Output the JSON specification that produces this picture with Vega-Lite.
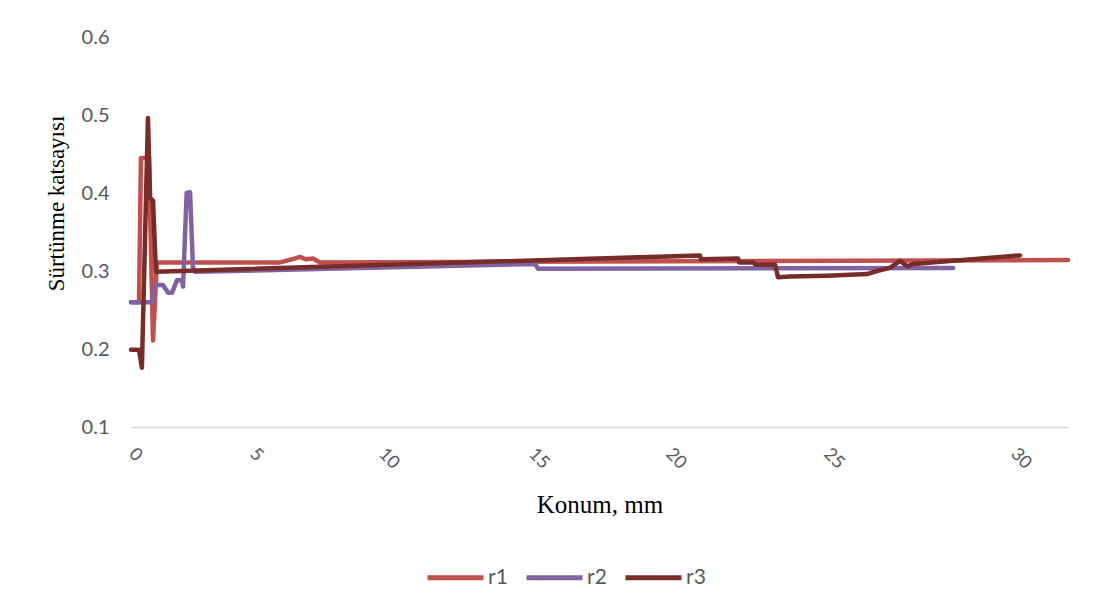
{
  "$schema": "https://vega.github.io/schema/vega-lite/v6.json",
  "autosize": "none",
  "width": 937,
  "height": 390,
  "padding": {"left": 131, "top": 37, "right": 43, "bottom": 181},
  "background": "white",
  "config": {
    "view": {"stroke": null},
    "font": "Lato"
  },
  "data": {
    "values": [
      {"s": "r1", "x": 0.0, "y": 0.26},
      {"s": "r1", "x": 0.33, "y": 0.26},
      {"s": "r1", "x": 0.41, "y": 0.445},
      {"s": "r1", "x": 0.74, "y": 0.445},
      {"s": "r1", "x": 0.91, "y": 0.211},
      {"s": "r1", "x": 1.07, "y": 0.311},
      {"s": "r1", "x": 6.09, "y": 0.311},
      {"s": "r1", "x": 6.55, "y": 0.315},
      {"s": "r1", "x": 6.86, "y": 0.318},
      {"s": "r1", "x": 7.09, "y": 0.315},
      {"s": "r1", "x": 7.36, "y": 0.316},
      {"s": "r1", "x": 7.64, "y": 0.311},
      {"s": "r1", "x": 31.5, "y": 0.314},
      {"s": "r2", "x": 0.0, "y": 0.26},
      {"s": "r2", "x": 0.87, "y": 0.26},
      {"s": "r2", "x": 0.99, "y": 0.282},
      {"s": "r2", "x": 1.32, "y": 0.282},
      {"s": "r2", "x": 1.53, "y": 0.272},
      {"s": "r2", "x": 1.69, "y": 0.272},
      {"s": "r2", "x": 1.9, "y": 0.288},
      {"s": "r2", "x": 2.11, "y": 0.288},
      {"s": "r2", "x": 2.15, "y": 0.28},
      {"s": "r2", "x": 2.3, "y": 0.4},
      {"s": "r2", "x": 2.44, "y": 0.401},
      {"s": "r2", "x": 2.56, "y": 0.305},
      {"s": "r2", "x": 2.64, "y": 0.299},
      {"s": "r2", "x": 15.15, "y": 0.309},
      {"s": "r2", "x": 15.26, "y": 0.303},
      {"s": "r2", "x": 28.4, "y": 0.304},
      {"s": "r3", "x": 0.0, "y": 0.199},
      {"s": "r3", "x": 0.33, "y": 0.199},
      {"s": "r3", "x": 0.45, "y": 0.176},
      {"s": "r3", "x": 0.7, "y": 0.496},
      {"s": "r3", "x": 0.79, "y": 0.394},
      {"s": "r3", "x": 0.91, "y": 0.39},
      {"s": "r3", "x": 1.03, "y": 0.299},
      {"s": "r3", "x": 21.01, "y": 0.32},
      {"s": "r3", "x": 21.04, "y": 0.315},
      {"s": "r3", "x": 22.22, "y": 0.316},
      {"s": "r3", "x": 22.25, "y": 0.311},
      {"s": "r3", "x": 22.69, "y": 0.311},
      {"s": "r3", "x": 22.78, "y": 0.308},
      {"s": "r3", "x": 23.39, "y": 0.308},
      {"s": "r3", "x": 23.48, "y": 0.292},
      {"s": "r3", "x": 23.86, "y": 0.293},
      {"s": "r3", "x": 25.03, "y": 0.294},
      {"s": "r3", "x": 26.1, "y": 0.296},
      {"s": "r3", "x": 26.36, "y": 0.3},
      {"s": "r3", "x": 26.71, "y": 0.304},
      {"s": "r3", "x": 26.98, "y": 0.313},
      {"s": "r3", "x": 27.17, "y": 0.306},
      {"s": "r3", "x": 27.33, "y": 0.309},
      {"s": "r3", "x": 30.19, "y": 0.32}
    ]
  },
  "mark": {"type": "line", "strokeWidth": 4.5, "strokeJoin": "round", "strokeCap": "round"},
  "encoding": {
    "x": {
      "field": "x", "type": "quantitative",
      "scale": {"domain": [0, 5, 10, 15, 20, 25, 30, 31.5], "range": [0, 121, 250, 400, 537, 695, 882, 937], "nice": false, "zero": false},
      "axis": {
        "values": [0, 5, 10, 15, 20, 25, 30],
        "title": "Konum, mm",
        "titleFont": "Liberation Serif", "titleFontSize": 25, "titleFontWeight": "normal", "titleColor": "#000000",
        "titleY": 85, "titleBaseline": "alphabetic",
        "grid": false, "ticks": false,
        "domainColor": "#D9D9D9", "domainWidth": 1.5,
        "labelAngle": 45, "labelAlign": "left", "labelBaseline": "middle",
        "labelFont": "Lato", "labelFontSize": 18, "labelColor": "#595959",
        "labelPadding": 24, "labelFlush": false, "labelOverlap": false
      }
    },
    "y": {
      "field": "y", "type": "quantitative",
      "scale": {"domain": [0.1, 0.6], "nice": false, "zero": false},
      "axis": {
        "values": [0.1, 0.2, 0.3, 0.4, 0.5, 0.6],
        "format": ".1f",
        "title": "Sürtünme katsayısı",
        "titleFont": "Liberation Serif", "titleFontSize": 23, "titleFontWeight": "normal", "titleColor": "#000000",
        "titleX": -68, "titleY": 166, "titleAngle": -90, "titleAlign": "center", "titleBaseline": "alphabetic",
        "grid": false, "ticks": false, "domain": false,
        "labelFont": "Lato", "labelFontSize": 20, "labelColor": "#595959",
        "labelPadding": 22
      }
    },
    "color": {
      "field": "s", "type": "nominal",
      "scale": {"domain": ["r1", "r2", "r3"], "range": ["#C0504D", "#8064A2", "#772C2A"]},
      "legend": {
        "title": null,
        "orient": "none",
        "direction": "horizontal",
        "legendX": 294,
        "legendY": 510,
        "symbolType": "stroke",
        "symbolSize": 3136,
        "symbolStrokeWidth": 5,
        "labelFont": "Lato", "labelFontSize": 21, "labelColor": "#595959",
        "labelOffset": 2,
        "columnPadding": 8
      }
    }
  }
}
